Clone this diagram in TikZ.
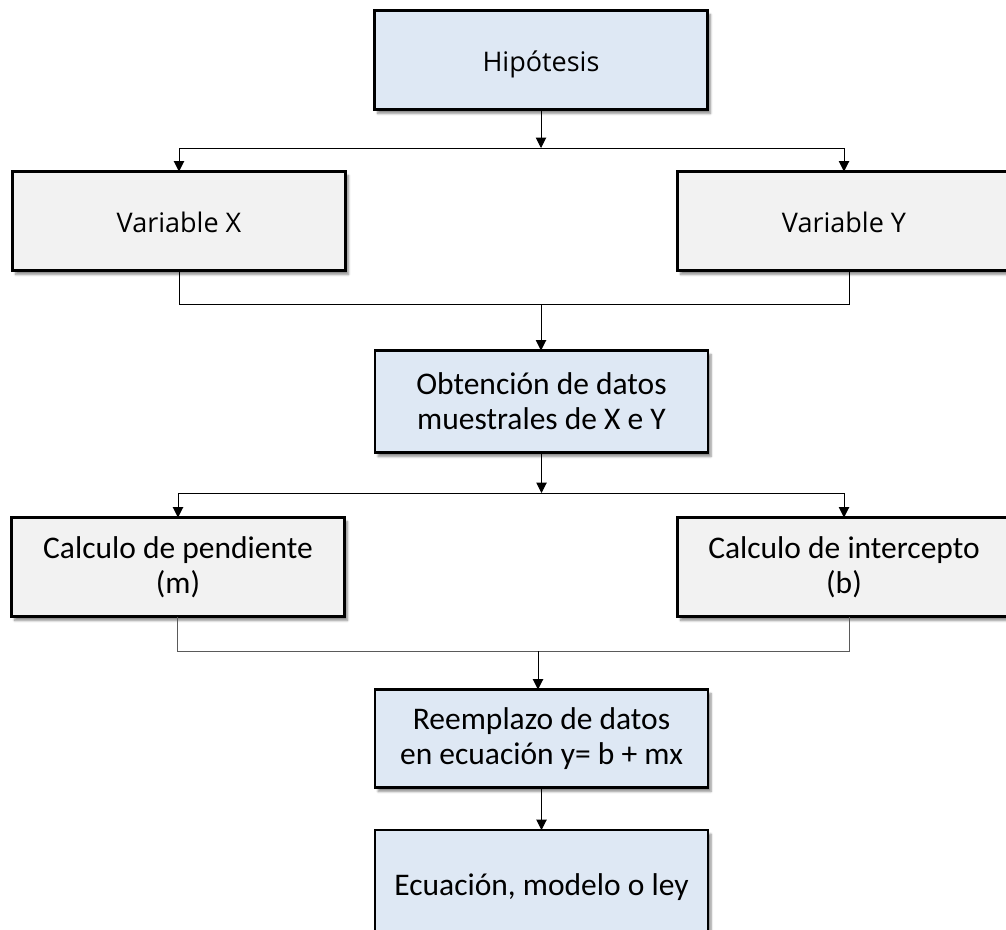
\documentclass[tikz,border=0pt]{standalone}
\usepackage{fontspec}
\setmainfont{Open Sans}
\newfontfamily\cbfont{Carlito}
\usetikzlibrary{arrows.meta,shadows.blur}
\definecolor{boxblue}{HTML}{DEE8F4}
\definecolor{boxgray}{HTML}{F2F2F2}
\definecolor{joingray}{HTML}{5A5A5A}
\tikzset{
  stage/.style={draw=black, line width=2.2pt, inner sep=0pt, outer sep=0pt,
    minimum width=333pt, minimum height=99pt, align=center,
    blur shadow={shadow xshift=3pt, shadow yshift=-4pt, shadow blur steps=6, shadow opacity=45}},
  bluebox/.style={stage, fill=boxblue},
  graybox/.style={stage, fill=boxgray},
  osfont/.style={font=\fontsize{27pt}{35pt}\selectfont, text height=24pt, text depth=2pt},
  cbtext/.style={font=\cbfont\fontsize{31.5pt}{35pt}\selectfont},
  link/.style={draw=black, line width=1pt},
  arr/.style={link, -{Triangle[length=10.5pt,width=10.5pt]}},
}
\begin{document}
\begin{tikzpicture}[x=1pt,y=-1pt]
\useasboundingbox (0,0) rectangle (1006,929);
\clip (0,0) rectangle (1006,929);

% boxes
\node[bluebox, osfont] (hip) at (541,60) {Hipótesis};
\node[graybox, osfont] (varx) at (179,221) {Variable X};
\node[graybox, osfont] (vary) at (844,221) {Variable Y};
\node[bluebox, cbtext, minimum height=102pt] (obt) at (541.5,401.5) {Obtención de datos\\muestrales de X e Y};
\node[graybox, cbtext] (calm) at (178,567) {Calculo de pendiente\\(m)};
\node[graybox, cbtext] (calb) at (844,567) {Calculo de intercepto\\(b)};
\node[bluebox, cbtext, minimum height=98pt] (reem) at (541.5,738.5) {Reemplazo de datos\\en ecuación y= b + mx};
\node[bluebox, cbtext, minimum height=115pt] (ecu) at (541.5,887.5) {Ecuación, modelo o ley};

% junction points
\coordinate (s1) at (541,148);
\coordinate (s1l) at (179,148);
\coordinate (s1r) at (844,148);
\coordinate (m1l) at (179,304);
\coordinate (m1r) at (849,304);
\coordinate (m1) at (541,304);
\coordinate (s2) at (541.5,493);
\coordinate (s2l) at (178,493);
\coordinate (s2r) at (844,493);
\coordinate (m2l) at (177,651);
\coordinate (m2r) at (849,651);
\coordinate (m2) at (538,651);

% split after the hypothesis
\draw[arr] (hip.south) -- (s1);
\draw[link] (s1l) -- (s1r);
\draw[arr] (s1l) -- (varx.north);
\draw[arr] (s1r) -- (vary.north);

% join of both variables
\draw[link] (varx.south) -- (m1l) -- (m1r) -- (m1r |- vary.south);
\draw[arr] (m1) -- (m1 |- obt.north);

% split into slope and intercept
\draw[arr] (obt.south) -- (s2);
\draw[link] (s2l) -- (s2r);
\draw[arr] (s2l) -- (calm.north);
\draw[arr] (s2r) -- (calb.north);

% join of slope and intercept
\draw[link, draw=joingray] (m2l |- calm.south) -- (m2l) -- (m2r) -- (m2r |- calb.south);
\draw[arr] (m2) -- (m2 |- reem.north);

\draw[arr] (reem.south) -- (ecu.north);
\end{tikzpicture}
\end{document}
